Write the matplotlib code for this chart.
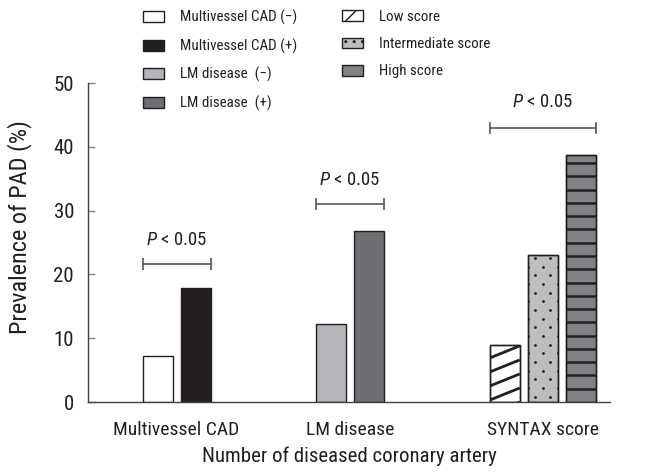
import numpy as np
import matplotlib
matplotlib.use("Agg")
import matplotlib.pyplot as plt
from matplotlib import font_manager
from matplotlib.patches import Patch

# ---------------- data ----------------
groups = ["Multivessel CAD", "LM disease", "SYNTAX score"]
multivessel_labels = ["Multivessel CAD (\u2212)", "Multivessel CAD (+)"]
multivessel_values = [7.2, 17.9]
lm_labels = ["LM disease  (\u2212)", "LM disease  (+)"]
lm_values = [12.2, 26.8]
syntax_labels = ["Low score", "Intermediate score", "High score"]
syntax_values = [8.9, 23.0, 38.7]
p_text = " < 0.05"
y_ticks = [0, 10, 20, 30, 40, 50]
x_title = "Number of diseased coronary artery"
y_title = "Prevalence of PAD (%)"

# ---------------- fonts ----------------
cond = None
prefs = ["Liberation Sans Narrow", "Roboto Condensed", "Open Sans Condensed",
         "Noto Sans Condensed", "DejaVu Sans Condensed"]
entries = font_manager.fontManager.ttflist
for p in prefs:
    for f in entries:
        if f.name == p and f.style == "normal" and f.weight in (400, "normal", "regular"):
            cond = (f.name, "normal")
            break
    if cond:
        break
if cond is None:
    for fam in ["Roboto", "Open Sans", "Noto Sans", "Liberation Sans", "DejaVu Sans"]:
        for f in entries:
            if f.name == fam and f.style == "normal" and str(f.stretch) in ("condensed", "semi-condensed") \
                    and f.weight in (400, "normal", "regular"):
                cond = (f.name, str(f.stretch))
                break
        if cond:
            break

if cond is not None:
    main_font, stretch = cond
    scale = 1.0
else:
    main_font, stretch = "Liberation Sans", "normal"
    scale = 0.88
plt.rcParams["font.family"] = [main_font, "DejaVu Sans"]
plt.rcParams["font.stretch"] = stretch
plt.rcParams["mathtext.fontset"] = "custom"
plt.rcParams["mathtext.it"] = main_font + ":italic"
plt.rcParams["mathtext.rm"] = main_font

TXT = "#231f20"
EDGE = "#231f20"

fig = plt.figure(figsize=(6.46, 4.73), dpi=100)
ax = fig.add_axes([88 / 646, 1 - 402 / 473, 522 / 646, 319 / 473])

# layout (units: one bar step)
centers = [2.33, 6.895, 11.97]
width = 0.79
step = 1.0

def offsets(n):
    return [(i - (n - 1) / 2) * step for i in range(n)]

mv_colors = ["white", "#231f20"]
mv_bars = []
for off, v, c in zip(offsets(2), multivessel_values, mv_colors):
    b = ax.bar(centers[0] + off, v, width, color=c, edgecolor=EDGE, linewidth=1.0, zorder=2)
    mv_bars.append(b[0])

lm_colors = ["#b3b5b8", "#6d6e71"]
lm_bars = []
for off, v, c in zip(offsets(2), lm_values, lm_colors):
    b = ax.bar(centers[1] + off, v, width, color=c, edgecolor=EDGE, linewidth=1.0, zorder=2)
    lm_bars.append(b[0])

sx_colors = ["white", "#bcbec0", "#808285"]
sx_bars = []
for off, v, c in zip(offsets(3), syntax_values, sx_colors):
    b = ax.bar(centers[2] + off, v, width, color=c, edgecolor=EDGE, linewidth=1.0, zorder=2)
    sx_bars.append(b[0])

# low score: shallow diagonal lines clipped to bar
low = sx_bars[0]
x0, x1 = low.get_x(), low.get_x() + low.get_width()
rise, spacing = 1.9, 2.2
for k in np.arange(-rise, low.get_height() + spacing, spacing):
    ln, = ax.plot([x0, x1], [k, k + rise], color=EDGE, lw=2.0, zorder=3,
                  solid_capstyle="butt")
    ln.set_clip_path(low)

# intermediate score: staggered dots
mid = sx_bars[1]
cx = mid.get_x() + mid.get_width() / 2
hw = mid.get_width() / 2
row_gap = 1.36
xs, ys = [], []
for i, yy in enumerate(np.arange(row_gap * 0.6, mid.get_height(), row_gap)):
    pts = [cx - hw / 2, cx + hw / 2] if i % 2 == 0 else [cx - hw, cx, cx + hw]
    xs += pts
    ys += [yy] * len(pts)
sc = ax.scatter(xs, ys, s=4, color=EDGE, zorder=3, linewidths=0)
sc.set_clip_path(mid)

# high score: horizontal lines
high = sx_bars[2]
hx0, hx1 = high.get_x(), high.get_x() + high.get_width()
hl = ax.hlines(np.arange(2.08, high.get_height(), 2.08), hx0, hx1, color=EDGE, lw=1.8, zorder=3)
hl.set_clip_path(high)

for b in sx_bars:
    ax.bar(b.get_x() + b.get_width() / 2, b.get_height(), b.get_width(), fill=False,
           edgecolor=EDGE, linewidth=1.0, zorder=4)

# significance brackets
BR = "#58595b"
def bracket(bars, y, ty):
    left = bars[0].get_x()
    right = bars[-1].get_x() + bars[-1].get_width()
    ax.plot([left, right], [y, y], color=BR, lw=1.2, zorder=3)
    ax.plot([left, right], [y, y], ls="none", marker="|", ms=9, mew=1.2, color=BR, zorder=3)
    ax.text((left + right) / 2, ty, r"$\it{P}$" + p_text, ha="center", va="center",
            fontsize=13.5 * scale, color=TXT)

bracket(mv_bars, 21.6, 25.4)
bracket(lm_bars, 31.0, 34.8)
bracket(sx_bars, 43.0, 47.0)

ax.set_xlim(0, 13.74)
ax.set_ylim(0, 50)
ax.set_yticks(y_ticks)
ax.set_xticks(centers)
ax.set_xticklabels(groups)
for s in ["top", "right"]:
    ax.spines[s].set_visible(False)
for s in ["left", "bottom"]:
    ax.spines[s].set_color("#414042")
    ax.spines[s].set_linewidth(1.0)
ax.tick_params(axis="y", direction="in", length=5, width=1, color="#808285",
               labelsize=15 * scale, pad=10, labelcolor=TXT)
ax.tick_params(axis="x", length=0, labelsize=14 * scale, pad=14, labelcolor=TXT)
ax.set_xlabel(x_title, fontsize=15 * scale, color=TXT, labelpad=5)
ax.set_ylabel(y_title, fontsize=17.5 * scale, color=TXT)
ax.yaxis.set_label_coords(-0.108, 0.549)

leg_fs = 10.8 * scale
leg_kw = dict(frameon=False, fontsize=leg_fs, handlelength=1.4, handleheight=0.73,
              handletextpad=1.07, labelspacing=0.88, borderpad=0, borderaxespad=0,
              loc="upper left")
h1 = [Patch(facecolor=c, edgecolor=EDGE, linewidth=1.0) for c in mv_colors + lm_colors]
fig.legend(h1, multivessel_labels + lm_labels,
           bbox_to_anchor=(143 / 646, 1 - 10 / 473), labelcolor=TXT, **leg_kw)
h2 = [Patch(facecolor="white", edgecolor=EDGE, linewidth=1.0, hatch="/"),
      Patch(facecolor="#bcbec0", edgecolor=EDGE, linewidth=1.0, hatch=".."),
      Patch(facecolor="#808285", edgecolor=EDGE, linewidth=1.0)]
fig.legend(h2, syntax_labels,
           bbox_to_anchor=(342 / 646, 1 - 10 / 473), labelcolor=TXT, **leg_kw)

fig.savefig("out.png", dpi=100)
